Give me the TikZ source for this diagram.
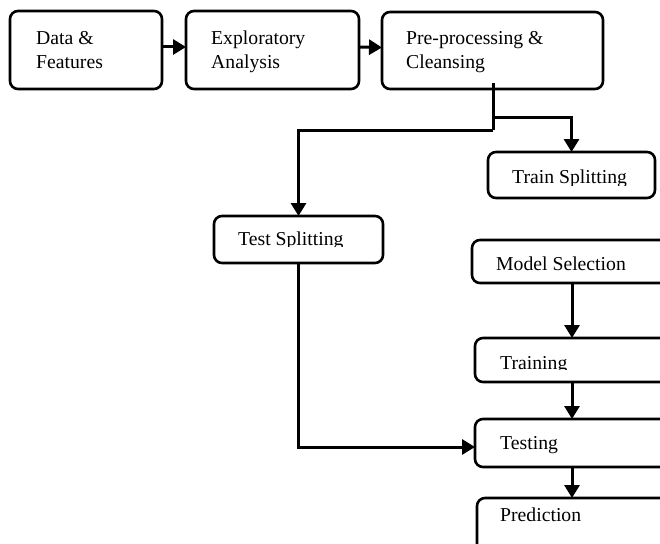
\documentclass[tikz,border=0pt]{standalone}
\usepackage{fontspec}
\setmainfont{Liberation Serif}
\usetikzlibrary{arrows.meta,calc}
\begin{document}
\begin{tikzpicture}[x=1pt,y=-1pt,
  box/.style={draw, line width=2.6pt, rounded corners=8pt, inner sep=0pt, outer sep=0pt, anchor=north west},
  lbl/.style={inner sep=0pt, anchor=base west, font=\fontsize{19.7}{23}\selectfont},
  arr/.style={line width=3pt, -{Triangle[length=13pt,width=15pt]}},
  ln/.style={line width=3pt}]
\useasboundingbox (0,0) rectangle (660,543);
\clip (0,0) rectangle (660,543);
% boxes
\node[box, minimum width=152pt, minimum height=78pt] (data) at (10,11) {};
\node[box, minimum width=173pt, minimum height=78pt] (expl) at (186,11) {};
\node[box, minimum width=221pt, minimum height=77pt] (pre) at (382,12) {};
\node[box, minimum width=167pt, minimum height=46pt] (train) at (488,152) {};
\node[box, minimum width=169pt, minimum height=47pt] (test) at (214,216) {};
\node[box, minimum width=220pt, minimum height=43pt] (model) at (472,240) {};
\node[box, minimum width=220pt, minimum height=44pt] (training) at (475,338) {};
\node[box, minimum width=220pt, minimum height=48pt] (testing) at (475,419) {};
\node[box, minimum width=220pt, minimum height=70pt] (pred) at (477,498) {};
% labels
\node[lbl] (t1a) at (36,45) {Data \&};
\node[lbl] (t1b) at (36,68) {Features};
\node[lbl] (t2a) at (211,45) {Exploratory};
\node[lbl] (t2b) at (211,68) {Analysis};
\node[lbl] (t3a) at (406,45) {Pre-processing \&};
\node[lbl] (t3b) at (406,68) {Cleansing};
\begin{scope}
\clip (490,150) rectangle (653,185.5);
\node[lbl] (t4) at (512,183) {Train Splitting};
\end{scope}
\begin{scope}
\clip (216,218) rectangle (381,246.5);
\node[lbl] (t5) at (238,245) {Test Splitting};
\end{scope}
\node[lbl] (t6) at (496,270) {Model Selection};
\begin{scope}
\clip (477,340) rectangle (660,369);
\node[lbl] (t7) at (500,369) {Training};
\end{scope}
\begin{scope}
\clip (477,421) rectangle (660,454);
\node[lbl] (t8) at (500,449.5) {Testing};
\end{scope}
\node[lbl] (t9) at (500,521) {Prediction};
% connectors
\draw[arr] ([yshift=3pt]data.east) -- ([yshift=3pt]expl.west);
\draw[arr] ([yshift=3pt]expl.east) -- ([yshift=3pt]pre.west);
\coordinate (j1) at (493,117);
\coordinate (j2) at (493,130);
\draw[ln] ($(j1 |- pre.south)+(0,-6)$) -- (j1) -- (j2);
\draw[arr] (j1) -| (train.north);
\draw[arr] (j2) -| (test.north);
\coordinate (k) at (299,447);
\draw[arr] (test.south) |- (testing.west |- k);
\coordinate (col) at (572,0);
\draw[arr] (model.south -| col) -- (training.north -| col);
\draw[arr] (training.south -| col) -- (testing.north -| col);
\draw[arr] (testing.south -| col) -- (pred.north -| col);
\end{tikzpicture}
\end{document}
